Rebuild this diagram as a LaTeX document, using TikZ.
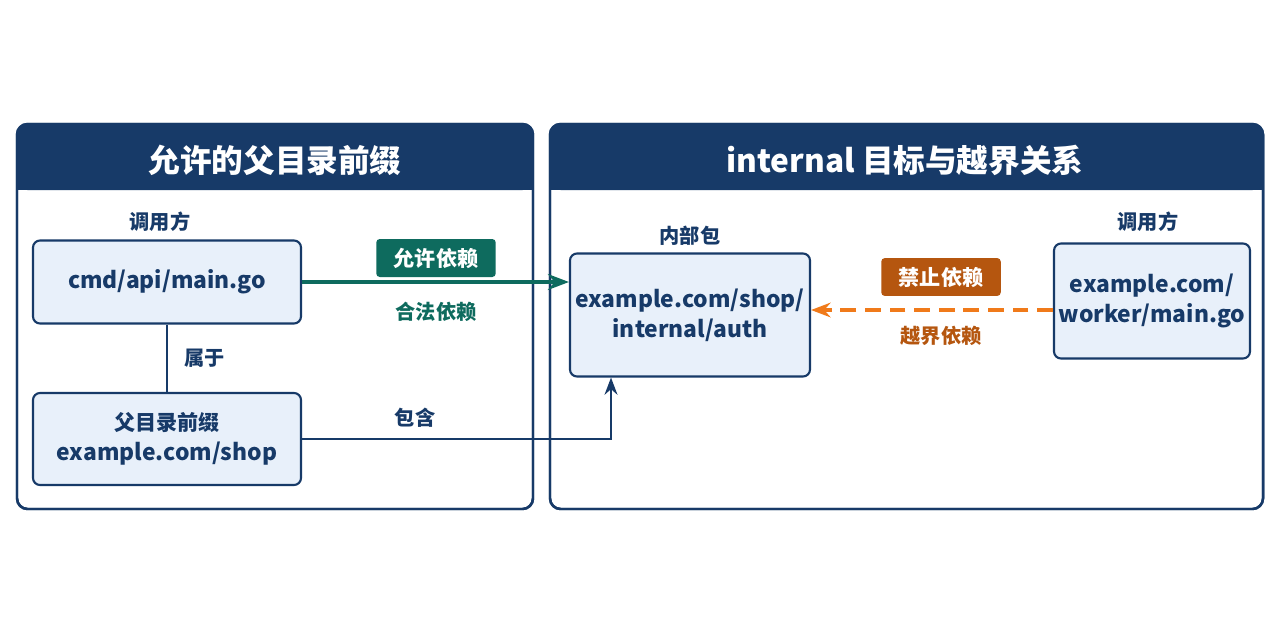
\documentclass[tikz,border=0pt]{standalone}
\usepackage{fontspec}
\setmainfont{Noto Sans CJK SC}
\usetikzlibrary{positioning, calc, arrows.meta}
\definecolor{navy}{HTML}{173A68}
\definecolor{boxfill}{HTML}{E8F0FA}
\definecolor{okgreen}{HTML}{0E6B5E}
\definecolor{badorange}{HTML}{B5560F}
\definecolor{dashorange}{HTML}{F07A1A}
\begin{document}
\begin{tikzpicture}[x=0.02cm, y=-0.02cm, >=Stealth, thick,
	panel/.style={draw=navy, line width=1.4pt, rounded corners=6pt, fill=white},
	head/.style={fill=navy, rounded corners=6pt},
	box/.style={draw=navy, line width=1.2pt, rounded corners=4pt, fill=boxfill, align=center, font=\fontsize{13}{17}\selectfont\bfseries, text=navy, inner sep=2pt},
	lbl/.style={font=\fontsize{11.5}{13}\selectfont\bfseries, text=navy},
	tag/.style={rounded corners=2pt, font=\fontsize{12}{14}\selectfont\bfseries, text=white, inner xsep=10pt, inner ysep=5pt}
	]
	\useasboundingbox (0,0) rectangle (1280,640);
	
	%Paineis
	\draw[panel] (17,124) rectangle (533,509);
	\fill[head] (17,124) rectangle (533,190);
	\fill[navy] (18,170) rectangle (532,190);
	\draw[panel, fill=none] (17,124) rectangle (533,509);
	\node[text=white, font=\fontsize{18}{22}\selectfont\bfseries] (T1) at (275,160) {允许的父目录前缀};
	
	\draw[panel] (550,124) rectangle (1263,509);
	\fill[head] (550,124) rectangle (1263,190);
	\fill[navy] (551,170) rectangle (1262,190);
	\draw[panel, fill=none] (550,124) rectangle (1263,509);
	\node[text=white, font=\fontsize{18}{22}\selectfont\bfseries] (T2) at (905,160) {internal 目标与越界关系};
	
	%Caixas
	\node[box, minimum width=268*0.02cm, minimum height=83*0.02cm] (cmd) at (167,282) {cmd/api/main.go};
	\node[box, minimum width=268*0.02cm, minimum height=92*0.02cm] (pre) at (167,439) {{\fontsize{12}{15}\selectfont 父目录前缀}\\example.com/shop};
	\node[box, minimum width=240*0.02cm, minimum height=123*0.02cm] (int) at (690,315) {example.com/shop/\\internal/auth};
	\node[box, minimum width=196*0.02cm, minimum height=115*0.02cm] (wrk) at (1152,301) {example.com/\\worker/main.go};
	
	\node[lbl] (c1) at (160,222) {调用方};
	\node[lbl] (c2) at (690,236) {内部包};
	\node[lbl] (c3) at (1148,222) {调用方};
	
	%Ligacoes
	\draw[navy, line width=1.3pt] (cmd) -- node[lbl, right=6pt] {属于} (pre);
	\draw[->, okgreen, line width=2pt] (cmd.east) -- (cmd.east -| int.west);
	\node[tag, fill=okgreen] (ok) at (436,258) {允许依赖};
	\node[lbl, text=okgreen] (okl) at (436,312) {合法依赖};
	\coordinate (up) at (611,439);
	\draw[->, navy, line width=1.5pt] (pre.east) -- (up) -- (up |- int.south);
	\node[lbl] (inc) at (415,418) {包含};
	\draw[->, dashorange, dashed, dash pattern=on 9pt off 5pt, line width=1.8pt] (wrk.west |- 0,310) -- (int.east |- 0,310);
	\node[tag, fill=badorange] (no) at (941,277) {禁止依赖};
	\node[lbl, text=badorange] (nol) at (941,336) {越界依赖};
\end{tikzpicture}
\end{document}
